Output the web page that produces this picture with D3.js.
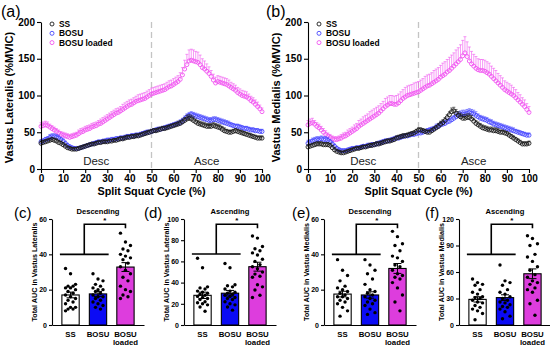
<!DOCTYPE html>
<html>
<head>
<meta charset="utf-8">
<script src="https://cdn.jsdelivr.net/npm/d3@7"></script>
<style>
  body { margin: 0; background: #fff; }
  svg { display: block; font-family: Arial, "Liberation Sans", sans-serif; }
</style>
</head>
<body>
<svg id="fig" width="550" height="346"></svg>
<script>
// ---- time-normalised curves (0..100 % of the split squat cycle) ----
const cycle = d3.range(0, 101);
const seriesNames = ['SS', 'BOSU', 'BOSU loaded'];
const xTicksTop = [0, 10, 20, 30, 40, 50, 60, 70, 80, 90, 100];
const yTicksTop = [0, 50, 100, 150, 200];

// Vastus lateralis (%MVIC)
const vlSS = [35,36,37,38,39,40,39,38,36,35,33,
  31,29,28,27,27,27,28,29,30,31, 32,33,34,34,35,36,36,37,37,37,
  38,38,39,39,40,41,41,42,43,43, 44,44,45,45,46,47,48,49,50,51,
  52,52,53,54,55,55,56,57,58,59, 60,61,62,64,66,68,69,68,66,64,
  62,61,60,59,58,58,58,59,58,57, 56,54,52,51,50,50,51,52,51,50,
  49,48,47,46,45,44,43,42,42,42];
const vlBOSU = [37,38,40,41,43,44,44,43,42,40,38,
  35,32,30,29,28,28,28,29,30,31, 32,33,34,35,36,37,37,38,38,39,
  39,40,40,41,41,42,42,43,44,44, 45,45,46,46,47,48,49,50,50,51,
  52,53,54,54,55,56,57,58,59,60, 61,62,63,65,68,71,73,74,73,72,
  71,70,69,68,67,66,66,67,67,66, 65,64,63,62,61,60,59,58,58,57,
  56,55,55,54,53,53,52,52,51,51];
const vlLoaded = [58,59,60,59,57,55,53,51,49,47,46,
  45,44,43,44,45,46,48,50,51,53, 54,55,57,58,59,61,62,64,66,68,
  70,72,74,76,77,79,81,83,85,87, 88,90,92,93,94,95,96,98,100,102,
  103,104,105,106,107,108,110,112,113,115, 117,119,122,128,136,142,147,148,147,146,
  145,142,138,136,133,130,126,121,117,119, 118,117,116,115,113,111,109,107,104,102,
  100,99,98,96,93,91,88,85,82,78];
const vlSSErr = [3,3,3,3,3,3,3,3,3,3,3,
  3,2,2,2,2,2,2,2,2,2, 2,2,2,2,2,2,2,2,2,2,
  2,2,2,2,3,3,3,3,3,3, 3,3,3,3,3,3,3,3,3,3,
  3,3,3,3,3,3,3,3,3,3, 3,4,4,4,4,5,5,5,5,4,
  4,4,4,4,4,4,4,4,4,4, 4,4,4,3,3,3,3,3,3,3,
  3,3,3,3,3,3,3,3,3,3];
const vlBOSUErr = [3,3,3,3,4,4,4,4,4,3,3,
  3,3,3,2,2,2,2,2,2,2, 2,2,2,2,2,2,2,2,3,3,
  3,3,3,3,3,3,3,3,3,3, 3,3,3,3,3,3,3,3,3,3,
  3,3,3,3,3,3,3,3,3,3, 3,3,4,4,4,4,4,4,4,4,
  4,4,4,4,4,4,4,4,4,4, 4,4,4,4,4,3,3,3,3,3,
  3,3,3,3,3,3,3,3,3,3];
const vlLoadedErr = [5,5,5,5,4,4,4,4,4,4,4,
  4,4,4,4,4,4,5,5,5,5, 5,5,5,5,5,5,6,6,6,6,
  6,6,6,6,6,6,7,7,7,7, 7,7,7,8,8,8,8,8,8,8,
  8,8,8,8,8,8,8,8,8,8, 8,8,9,10,12,14,15,15,15,14,
  14,13,12,11,10,9,8,8,8,8, 8,8,8,8,8,7,7,7,7,7,
  7,7,7,6,6,6,6,6,5,5];

// Vastus medialis (%MVIC)
const vmSS = [30,31,32,33,34,34,34,33,33,33,32,
  29,26,24,23,22,22,23,24,25,26, 27,28,28,29,30,30,31,32,32,33,
  34,34,35,36,37,38,38,39,40,42, 43,44,45,45,46,47,48,49,51,53,
  53,52,51,50,50,52,54,56,58,61, 63,66,70,74,78,79,76,73,71,69,
  69,70,70,68,65,62,60,58,56,55, 54,53,53,52,52,51,50,50,49,48,
  46,44,42,40,38,36,34,34,34,35];
const vmBOSU = [35,36,38,39,40,40,41,40,40,39,37,
  34,31,28,26,25,25,25,26,27,28, 28,29,29,30,31,31,32,32,33,33,
  34,35,36,37,38,38,39,40,41,42, 42,43,44,45,45,46,47,47,48,49,
  49,50,51,52,53,54,55,57,58,60, 61,62,64,65,67,69,71,73,74,75,
  75,76,77,76,75,73,71,69,68,67, 66,64,63,61,60,59,58,57,56,55,
  54,53,52,51,50,49,48,47,46,46];
const vmLoaded = [60,62,63,61,58,56,53,50,47,45,43,
  41,40,40,41,42,44,45,47,49,51, 53,55,58,60,62,64,66,68,70,72,
  74,76,79,82,85,87,89,89,88,88, 90,93,96,98,100,101,102,103,104,105,
  107,109,111,113,114,116,118,120,122,125, 127,129,132,134,137,140,143,146,149,154,
  158,153,147,143,140,137,135,134,134,133, 131,129,126,123,120,117,114,111,108,106,
  104,102,100,97,94,91,88,85,81,77];
const vmSSErr = [3,3,3,3,3,3,3,3,3,3,3,
  3,3,2,2,2,2,2,2,2,2, 2,2,2,2,2,2,2,3,3,3,
  3,3,3,3,3,3,3,3,3,3, 3,3,3,3,3,3,3,3,3,3,
  3,3,3,3,3,3,3,3,4,4, 4,4,4,4,5,5,5,5,5,5,
  5,5,5,5,4,4,4,4,4,4, 4,4,4,4,4,4,3,3,3,3,
  3,3,3,3,3,3,3,3,3,3];
const vmBOSUErr = [4,4,4,4,4,4,4,4,4,4,3,
  3,3,3,3,2,2,2,2,2,2, 2,2,2,2,2,2,3,3,3,3,
  3,3,3,3,3,3,3,3,3,3, 3,3,3,3,3,3,3,3,3,3,
  3,3,3,3,3,3,3,4,4,4, 4,4,4,4,4,4,5,5,5,5,
  5,5,5,5,5,5,4,4,4,4, 4,4,4,4,4,4,4,4,4,4,
  4,4,4,3,3,3,3,3,3,3];
const vmLoadedErr = [6,6,6,5,5,5,5,5,5,4,4,
  4,4,4,4,5,5,5,6,6,6, 7,7,8,8,9,9,9,10,10,10,
  10,10,10,10,11,11,11,11,11,12, 12,12,12,13,13,13,13,14,14,14,
  14,14,15,15,15,15,16,16,16,16, 17,17,17,18,18,18,19,19,20,21,
  22,20,19,17,16,16,15,15,15,15, 15,15,14,14,14,13,13,13,12,12,
  12,12,11,11,10,10,9,9,8,8];

// ---- total AUC per participant ----
const groups = ['SS', 'BOSU', 'BOSU loaded'];

const aucVlDescMean = [17, 17.6, 32.8];
const aucVlDescSem = [1.6, 1.4, 2.5];
const aucVlDescDots = [
  [32,29,23,22,22,21,21,20,19,18,17,16,15,14,13,12,10,10,9,9,8],
  [29,26,25,23,22,21,20,20,19,18,17,16,16,15,14,13,12,11,10,9],
  [52,47,45,43,42,40,39,38,37,35,33,31,29,27,25,22,20,19,17,16,15]
];
const aucVlAscMean = [28, 30, 55];
const aucVlAscSem = [3, 2.6, 4.2];
const aucVlAscDots = [
  [63,54,36,35,34,32,31,30,29,28,27,26,25,24,22,21,20,19,17,13],
  [58,54,38,37,36,34,32,31,30,29,28,27,26,25,24,22,20,19,17,14],
  [84,82,74,72,70,68,66,62,60,57,55,53,50,48,46,45,38,36,33,28,26]
];
const aucVmDescMean = [17.5, 17, 32];
const aucVmDescSem = [1.6, 1.8, 2.8];
const aucVmDescDots = [
  [37,31,28,25,22,21,20,19,18,17,16,16,15,14,13,12,10,8,5],
  [37,34,31,29,26,23,20,19,18,17,16,15,14,13,12,11,9,7,6],
  [53,50,46,45,42,39,38,36,34,33,31,29,28,27,26,24,21,17,13,8]
];
const aucVmAscMean = [29, 31, 58];
const aucVmAscSem = [3, 3.2, 5.5];
const aucVmAscDots = [
  [52,48,46,45,40,37,35,32,31,30,28,26,25,22,20,18,16,13,6],
  [68,50,48,45,40,37,35,32,30,28,26,25,23,21,20,18,15,10,7],
  [101,98,92,90,80,77,72,66,62,57,54,50,48,46,42,40,37,28,24,11]
];

const yTicksC = [0, 20, 40, 60];
const yTicksD = [0, 20, 40, 60, 80, 100];
const yTicksE = [0, 20, 40, 60];
const yTicksF = [0, 30, 60, 90, 120];

// bracket levels: [lower bar over SS+BOSU, upper bar to BOSU loaded]
const bracketC = [40, 57];
const bracketD = [67, 95];
const bracketE = [40, 57];
const bracketF = [80, 114];

const LINE_COLORS = { 'SS': '#1a1a1a', 'BOSU': '#4646ff', 'BOSU loaded': '#f055f0' };
const BAR_COLORS = { 'SS': '#ffffff', 'BOSU': '#0b0bf5', 'BOSU loaded': '#dd3ddd' };

const svg = d3.select('#fig');

function styleAxis(g, size) {
  g.select('.domain').attr('stroke', '#000').attr('stroke-width', 1.1);
  g.selectAll('.tick line').attr('stroke', '#000').attr('stroke-width', 1.1);
  g.selectAll('.tick text')
    .attr('fill', '#000')
    .style('font-size', size + 'px')
    .style('font-weight', 'bold');
}

function linePanel(p) {
  const x = d3.scaleLinear().domain([0, 100]).range([p.left, p.right]);
  const y = d3.scaleLinear().domain([0, 200]).range([p.bottom, p.top]);
  const g = svg.append('g');

  g.append('line')
    .attr('x1', x(50)).attr('x2', x(50))
    .attr('y1', y(200)).attr('y2', y(0))
    .attr('stroke', '#c4c4c4')
    .attr('stroke-width', 1.3)
    .attr('stroke-dasharray', '6,4');

  g.append('text').text('Desc')
    .attr('x', x(25)).attr('y', y(5))
    .attr('text-anchor', 'middle')
    .style('font-size', '11.5px').attr('fill', '#222');
  g.append('text').text('Asce')
    .attr('x', x(75)).attr('y', y(5))
    .attr('text-anchor', 'middle')
    .style('font-size', '11.5px').attr('fill', '#222');

  // draw loaded first so the lower curves sit on top
  [...p.series].reverse().forEach(s => {
    const color = LINE_COLORS[s.name];
    const sg = g.append('g');
    sg.selectAll('path.err')
      .data(cycle)
      .enter()
      .append('path')
      .attr('d', i => {
        const top = y(s.values[i] + s.err[i]);
        return `M${x(i)},${y(s.values[i])}V${top}M${x(i) - 1.5},${top}h3`;
      })
      .attr('stroke', color)
      .attr('stroke-width', 0.6)
      .attr('fill', 'none');
    sg.selectAll('circle')
      .data(cycle)
      .enter()
      .append('circle')
      .attr('cx', i => x(i))
      .attr('cy', i => y(s.values[i]))
      .attr('r', 2)
      .attr('fill', 'none')
      .attr('stroke', color)
      .attr('stroke-width', 0.9);
  });

  g.append('g')
    .attr('transform', `translate(${p.left},0)`)
    .call(d3.axisLeft(y).tickValues(yTicksTop).tickSize(4).tickSizeOuter(0).tickPadding(2))
    .call(a => styleAxis(a, 10));
  g.append('g')
    .attr('transform', `translate(0,${p.bottom})`)
    .call(d3.axisBottom(x).tickValues(xTicksTop).tickSize(4).tickSizeOuter(0).tickPadding(2))
    .call(a => styleAxis(a, 10));

  g.append('text')
    .text('Split Squat Cycle (%)')
    .attr('x', (p.left + p.right) / 2).attr('y', p.bottom + 26)
    .attr('text-anchor', 'middle')
    .style('font-size', '10.8px').style('font-weight', 'bold');

  g.append('text')
    .text(p.yTitle)
    .attr('transform', `translate(${p.left - 28},${(p.top + p.bottom) / 2 + 2}) rotate(-90)`)
    .attr('text-anchor', 'middle')
    .style('font-size', '11px').style('font-weight', 'bold');

  g.append('text')
    .text(p.label)
    .attr('x', p.labelX).attr('y', 17)
    .style('font-size', '16px');

  // legend
  seriesNames.forEach((name, k) => {
    const ly = p.top + 2 + k * 9.3;
    g.append('circle')
      .attr('cx', p.left + 11).attr('cy', ly)
      .attr('r', 2)
      .attr('fill', 'none')
      .attr('stroke', LINE_COLORS[name])
      .attr('stroke-width', 0.9);
    g.append('text')
      .text(name)
      .attr('x', p.left + 18).attr('y', ly + 3)
      .style('font-size', '8.4px').style('font-weight', 'bold');
  });
}

linePanel({
  left: 41, right: 262, top: 22, bottom: 169,
  yTitle: 'Vastus Lateralis (%MVIC)', label: '(a)', labelX: 1,
  series: [
    { name: 'SS', values: vlSS, err: vlSSErr },
    { name: 'BOSU', values: vlBOSU, err: vlBOSUErr },
    { name: 'BOSU loaded', values: vlLoaded, err: vlLoadedErr }
  ]
});
linePanel({
  left: 308, right: 529, top: 22, bottom: 169,
  yTitle: 'Vastus Medialis (%MVIC)', label: '(b)', labelX: 266,
  series: [
    { name: 'SS', values: vmSS, err: vmSSErr },
    { name: 'BOSU', values: vmBOSU, err: vmBOSUErr },
    { name: 'BOSU loaded', values: vmLoaded, err: vmLoadedErr }
  ]
});

function barPanel(p) {
  const top = 219, bottom = 325;
  const x = d3.scaleBand()
    .domain(groups)
    .range([p.axisX, p.axisX + 92])
    .paddingInner(0.37)
    .paddingOuter(0.36);
  const y = d3.scaleLinear().domain([0, p.ticks[p.ticks.length - 1]]).range([bottom, top]);
  const g = svg.append('g');
  const cx = name => x(name) + x.bandwidth() / 2;

  g.selectAll('rect.bar')
    .data(groups)
    .enter()
    .append('rect')
    .attr('x', d => x(d))
    .attr('y', (d, i) => y(p.mean[i]))
    .attr('width', x.bandwidth())
    .attr('height', (d, i) => y(0) - y(p.mean[i]))
    .attr('fill', d => BAR_COLORS[d])
    .attr('stroke', '#000')
    .attr('stroke-width', 1.1);

  g.selectAll('path.sem')
    .data(groups)
    .enter()
    .append('path')
    .attr('d', (d, i) => {
      const hi = y(p.mean[i] + p.sem[i]), lo = y(p.mean[i] - p.sem[i]);
      return `M${cx(d)},${lo}V${hi}M${cx(d) - 4},${hi}h8M${cx(d) - 4},${lo}h8`;
    })
    .attr('stroke', '#000')
    .attr('stroke-width', 1)
    .attr('fill', 'none');

  const jitter = [-5, 0, 5, -2.5, 2.5];
  groups.forEach((name, gi) => {
    g.selectAll(null)
      .data(p.dots[gi])
      .enter()
      .append('circle')
      .attr('cx', (v, i) => cx(name) + jitter[i % 5])
      .attr('cy', v => y(v))
      .attr('r', 1.7)
      .attr('fill', '#000');
  });

  // significance bracket
  const lowL = x('SS') - 2;
  const lowR = x('BOSU') + x.bandwidth() + 2;
  const mid = (cx('SS') + cx('BOSU')) / 2;
  const right = cx('BOSU loaded');
  g.append('path')
    .attr('d', `M${lowL},${y(p.bracket[0])}H${lowR}M${mid},${y(p.bracket[0])}V${y(p.bracket[1])}H${right}V${y(p.bracket[1]) + 4}`)
    .attr('stroke', '#000')
    .attr('stroke-width', 1.6)
    .attr('fill', 'none');
  g.append('text')
    .text('*')
    .attr('x', (mid + right) / 2).attr('y', y(p.bracket[1]) - 1)
    .attr('text-anchor', 'middle')
    .style('font-size', '8px').style('font-weight', 'bold');

  g.append('g')
    .attr('transform', `translate(${p.axisX},0)`)
    .call(d3.axisLeft(y).tickValues(p.ticks).tickSize(3).tickSizeOuter(0).tickPadding(2))
    .call(a => styleAxis(a, 7));

  const xa = g.append('g')
    .attr('transform', `translate(0,${bottom})`)
    .call(d3.axisBottom(x).tickSize(0).tickSizeOuter(0).tickPadding(6))
    .call(a => styleAxis(a, 7.8));
  xa.selectAll('.tick text').each(function (d) {
    const words = d.split(' ');
    const t = d3.select(this).text(null);
    words.forEach((w, k) => {
      t.append('tspan').attr('x', 0).attr('dy', k === 0 ? '0.71em' : '1.1em').text(w);
    });
  });

  g.append('text')
    .text(p.title)
    .attr('x', cx('BOSU')).attr('y', 214)
    .attr('text-anchor', 'middle')
    .style('font-size', '7.6px').style('font-weight', 'bold');

  g.append('text')
    .text(p.yTitle)
    .attr('transform', `translate(${p.axisX - 15},${(top + bottom) / 2}) rotate(-90)`)
    .attr('text-anchor', 'middle')
    .style('font-size', '7.2px').style('font-weight', 'bold');

  g.append('text')
    .text(p.label)
    .attr('x', p.labelX).attr('y', 218)
    .style('font-size', '15px');
}

barPanel({
  axisX: 52, ticks: yTicksC, mean: aucVlDescMean, sem: aucVlDescSem, dots: aucVlDescDots,
  bracket: bracketC, title: 'Descending', yTitle: 'Total AUC in Vastus Lateralis',
  label: '(c)', labelX: 14
});
barPanel({
  axisX: 184, ticks: yTicksD, mean: aucVlAscMean, sem: aucVlAscSem, dots: aucVlAscDots,
  bracket: bracketD, title: 'Ascending', yTitle: 'Total AUC in Vastus Lateralis',
  label: '(d)', labelX: 144
});
barPanel({
  axisX: 324, ticks: yTicksE, mean: aucVmDescMean, sem: aucVmDescSem, dots: aucVmDescDots,
  bracket: bracketE, title: 'Descending', yTitle: 'Total AUC in Vastus Medialis',
  label: '(e)', labelX: 292
});
barPanel({
  axisX: 459, ticks: yTicksF, mean: aucVmAscMean, sem: aucVmAscSem, dots: aucVmAscDots,
  bracket: bracketF, title: 'Ascending', yTitle: 'Total AUC in Vastus Medialis',
  label: '(f)', labelX: 425
});
</script>
</body>
</html>
